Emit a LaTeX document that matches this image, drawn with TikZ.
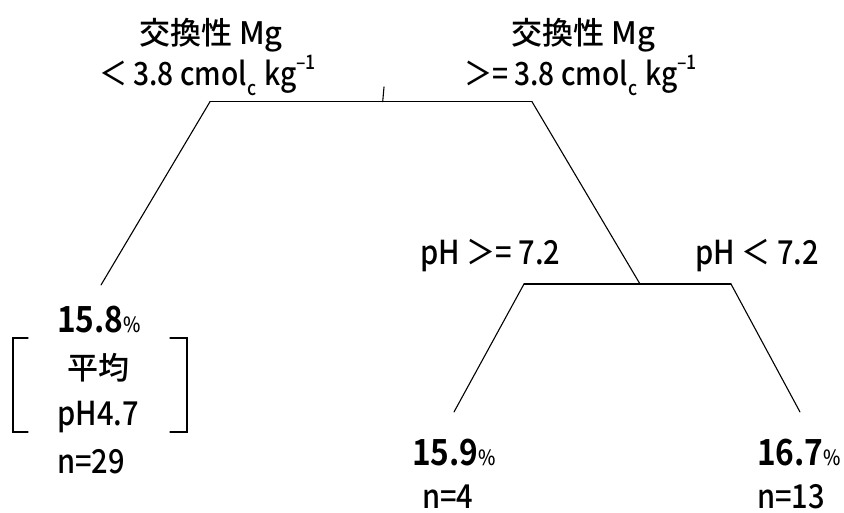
\documentclass[tikz,border=0pt]{standalone}
\usepackage{fontspec}
\setmainfont{Noto Sans CJK JP Medium}[FakeStretch=0.88, BoldFont={Noto Sans CJK JP Bold}]
\newfontfamily\jpfont{Noto Sans CJK JP Medium}
\newcommand\szTitle{\fontsize{31pt}{31pt}\selectfont}
\newcommand\szCond{\fontsize{32pt}{32pt}\selectfont}
\newcommand\szScript{\fontsize{20pt}{20pt}\selectfont}
\newcommand\szBig{\fontsize{36pt}{36pt}\selectfont}
\newcommand\szPct{\fontsize{21pt}{21pt}\selectfont}
\newcommand\szBody{\fontsize{33pt}{33pt}\selectfont}
\newcommand\cmolkg{cmol\raisebox{-0.3em}{\szScript c}\hspace{0.25em}kg\raisebox{0.5em}{\szScript –1}}
\begin{document}
\begin{tikzpicture}[x=1pt,y=-1pt,
  treeline/.style={line width=1.1pt, line cap=round, line join=miter},
  txt/.style={inner sep=0pt, anchor=base},
  txtw/.style={inner sep=0pt, anchor=base west},
  pct/.style={inner sep=0pt, anchor=base west, font=\szBig\bfseries}]
\useasboundingbox (0,0) rectangle (844,513);

% coordinates of the tree
\coordinate (root) at (382.7,101.7);
\coordinate (roottop) at (384,87);
\coordinate (aL) at (210,101.7);
\coordinate (aR) at (532,101.7);
\coordinate (leafL) at (101,285);
\coordinate (bC) at (640,284);
\coordinate (bL) at (524,284);
\coordinate (bR) at (731,284);
\coordinate (leafM) at (454,412);
\coordinate (leafR) at (800,412);

\draw[treeline] (root) -- (roottop);
\draw[treeline] (aL) -- (aR);
\draw[treeline] (aL) -- (leafL);
\draw[treeline] (aR) -- (bC);
\draw[treeline] (bL) -- (bR);
\draw[treeline] (bL) -- (leafM);
\draw[treeline] (bR) -- (leafR);

% split labels
\node[txt, font=\szTitle\jpfont] (t1L) at (211,45) {交換性 Mg};
\node[txt, font=\szCond] (t2L) at (207.5,86) {＜ 3.8 \cmolkg};
\node[txt, font=\szTitle\jpfont] (t1R) at (583.5,45) {交換性 Mg};
\node[txt, font=\szCond] (t2R) at (580.5,86) {＞= 3.8 \cmolkg};
\node[txtw, font=\szBody] (p1) at (420,265) {pH ＞= 7.2};
\node[txtw, font=\szBody] (p2) at (695,265) {pH ＜ 7.2};

% leaf left
\node[pct] (v1) at (57,333) {15.8{\mdseries\szPct\%}};
\node[inner sep=0pt, font=\szTitle\jpfont] (avg) at (98,368) {平均};
\node[txt, font=\szBody] (ph) at (98,425) {pH4.7};
\node[txtw, font=\szBody] (n1) at (57,473) {n=29};
\coordinate (brLt) at (28,338);
\coordinate (brLtc) at (13,338);
\coordinate (brLbc) at (13,432);
\coordinate (brLb) at (28,432);
\coordinate (brRt) at (170,338);
\coordinate (brRtc) at (187,338);
\coordinate (brRbc) at (187,432);
\coordinate (brRb) at (170,432);
\draw[treeline] (brLt) -- (brLtc) -- (brLbc) -- (brLb);
\draw[treeline] (brRt) -- (brRtc) -- (brRbc) -- (brRb);

% leaf middle
\node[pct] (v2) at (412,465) {15.9{\mdseries\szPct\%}};
\node[txtw, font=\szBody] (n2) at (422,508) {n=4};

% leaf right
\node[pct] (v3) at (757,465) {16.7{\mdseries\szPct\%}};
\node[txtw, font=\szBody] (n3) at (757,508) {n=13};
\end{tikzpicture}
\end{document}
